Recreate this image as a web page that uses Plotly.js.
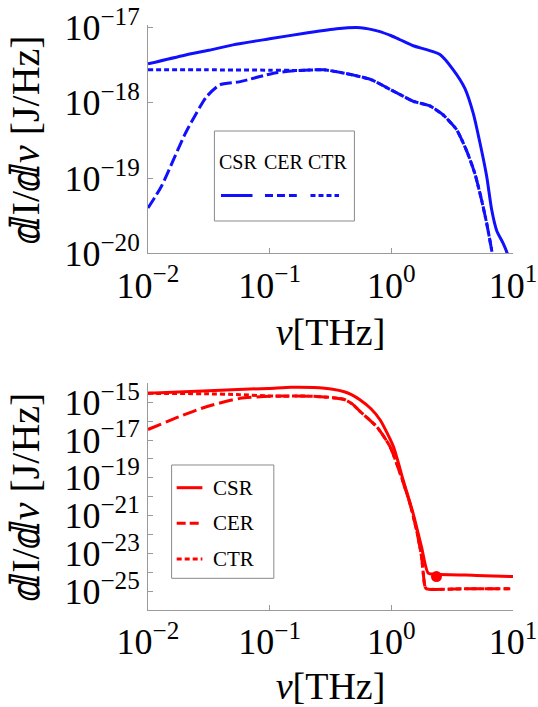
<!DOCTYPE html>
<html>
<head>
<meta charset="utf-8">
<script src="https://cdn.plot.ly/plotly-3.0.1.min.js"></script>
<style>html,body{margin:0;padding:0;background:#fff;}#chart{width:538px;height:707px;}</style>
</head>
<body>
<div id="chart"></div>
<script>
// ---------- data (frequency in THz, intensity in J/Hz) ----------
const seriesNames = ["CSR", "CER", "CTR"];

const topCSRnu = [0.01, 0.02, 0.0316, 0.05, 0.1, 0.2, 0.355, 0.56, 0.78, 1.0, 1.18, 1.51, 1.95, 2.51, 3.23, 4.03, 4.72, 5.36, 6.08, 6.68, 7.35, 8.32, 8.87, 9.3];
const topCSRI  = [3.3e-18, 4.3e-18, 5.0e-18, 5.9e-18, 7.1e-18, 8.5e-18, 9.7e-18, 1.0e-17, 9.0e-18, 7.8e-18, 6.9e-18, 5.75e-18, 5.1e-18, 4.4e-18, 2.75e-18, 1.55e-18, 7.2e-19, 2.9e-19, 1.05e-19, 3.8e-20, 2.0e-20, 1.35e-20, 1.05e-20, 7.9e-21];

const topCERnu = [0.01, 0.0129, 0.0204, 0.0302, 0.039, 0.056, 0.11, 0.174, 0.28, 0.4, 0.68, 1.0, 1.18, 1.51, 2.07, 2.67, 3.44, 4.16, 4.86, 5.52, 6.08, 6.68, 6.9];
const topCERI  = [4.0e-20, 7.8e-20, 4.0e-19, 1.2e-18, 1.74e-18, 1.9e-18, 2.5e-18, 2.7e-18, 2.75e-18, 2.5e-18, 2.04e-18, 1.48e-18, 1.29e-18, 1.05e-18, 9.1e-19, 6.9e-19, 4.4e-19, 2.3e-19, 1.15e-19, 5.1e-20, 2.5e-20, 1.1e-20, 8e-21];

const topCTRnu = [0.01, 0.03, 0.1, 0.174, 0.28, 0.4, 0.68, 1.0, 1.18, 1.51, 2.07, 2.67, 3.44, 4.16, 4.86, 5.52, 6.08, 6.68, 6.9];
const topCTRI  = [2.75e-18, 2.75e-18, 2.72e-18, 2.7e-18, 2.75e-18, 2.5e-18, 2.04e-18, 1.48e-18, 1.29e-18, 1.05e-18, 9.1e-19, 6.9e-19, 4.4e-19, 2.3e-19, 1.15e-19, 5.1e-20, 2.5e-20, 1.1e-20, 8e-21];

const botCSRnu = [0.01, 0.0316, 0.098, 0.15, 0.23, 0.33, 0.41, 0.47, 0.555, 0.68, 0.81, 1.04, 1.25, 1.51, 1.77, 2.01, 2.35, 5.0, 10];
const botCSRI  = [2.95e-15, 4.1e-15, 5.4e-15, 6.2e-15, 6.0e-15, 4.9e-15, 3.6e-15, 2.5e-15, 1.3e-15, 4.5e-16, 1.15e-16, 4.5e-18, 7.6e-20, 1.3e-21, 2.2e-23, 8.9e-25, 7.9e-25, 6.8e-25, 5.9e-25];

const botCERnu = [0.01, 0.018, 0.0302, 0.057, 0.11, 0.21, 0.33, 0.41, 0.48, 0.555, 0.76, 0.975, 1.18, 1.42, 1.61, 1.77, 1.89, 1.95, 4.0, 9.5];
const botCERI  = [3.6e-17, 1.7e-16, 5.8e-16, 1.6e-15, 2.1e-15, 2.1e-15, 1.75e-15, 1.4e-15, 7.9e-16, 3.2e-16, 5.0e-17, 4.5e-18, 1.74e-19, 4.5e-21, 1.74e-22, 6.8e-24, 1.74e-25, 1.32e-25, 1.32e-25, 1.32e-25];

const botCTRnu = [0.01, 0.03, 0.057, 0.11, 0.21, 0.33, 0.41, 0.48, 0.555, 0.76, 0.975, 1.18, 1.42, 1.61, 1.77, 1.89, 1.95, 4.0, 9.5];
const botCTRI  = [2.95e-15, 2.8e-15, 2.5e-15, 2.1e-15, 2.1e-15, 1.75e-15, 1.4e-15, 7.9e-16, 3.2e-16, 5.0e-17, 4.5e-18, 1.74e-19, 4.5e-21, 1.74e-22, 6.8e-24, 1.74e-25, 1.32e-25, 1.32e-25, 1.32e-25];

const markerNu = [2.35];
const markerI  = [5.9e-25];

const xTickVals = [0.01, 0.1, 1, 10];
const xTickText = ["10<sup>\u22122</sup>", "10<sup>\u22121</sup>", "10<sup>0</sup>", "10<sup>1</sup>"];
const topYTickVals = [1e-20, 1e-19, 1e-18, 1e-17];
const topYTickText = ["10<sup>\u221220</sup>", "10<sup>\u221219</sup>", "10<sup>\u221218</sup>", "10<sup>\u221217</sup>"];
const botYTickVals = [1e-26, 1e-25, 1e-24, 1e-23, 1e-22, 1e-21, 1e-20, 1e-19, 1e-18, 1e-17, 1e-16, 1e-15, 1e-14];
const botYTickText = ["", "10<sup>\u221225</sup>", "", "10<sup>\u221223</sup>", "", "10<sup>\u221221</sup>", "", "10<sup>\u221219</sup>", "", "10<sup>\u221217</sup>", "", "10<sup>\u221215</sup>", ""];

// ---------- styles ----------
const BLUE = "#1010ff", RED = "#ff0000";
const SERIF = "Liberation Serif, Times New Roman, DejaVu Serif, serif";
const dashTop = ["solid", "12px,4px", "5px,3px"];
const dashBot = ["solid", "14px,5px", "5px,3px"];

function line(x, y, color, dash, xa, ya, name) {
  return {x: x, y: y, type: "scatter", mode: "lines", name: name, xaxis: xa, yaxis: ya,
          line: {color: color, width: 3, dash: dash, shape: "spline", smoothing: 0.6},
          showlegend: false, hoverinfo: "skip"};
}

const traces = [
  line(topCSRnu, topCSRI, BLUE, dashTop[0], "x", "y", seriesNames[0]),
  line(topCERnu, topCERI, BLUE, dashTop[1], "x", "y", seriesNames[1]),
  line(topCTRnu, topCTRI, BLUE, dashTop[2], "x", "y", seriesNames[2]),
  line(botCSRnu, botCSRI, RED, dashBot[0], "x2", "y2", seriesNames[0]),
  line(botCERnu, botCERI, RED, dashBot[1], "x2", "y2", seriesNames[1]),
  line(botCTRnu, botCTRI, RED, dashBot[2], "x2", "y2", seriesNames[2]),
  {x: markerNu, y: markerI, type: "scatter", mode: "markers", xaxis: "x2", yaxis: "y2",
   marker: {color: RED, size: 11}, showlegend: false, hoverinfo: "skip", name: "CSR point"}
];

const axisCommon = {
  type: "log", showgrid: false, zeroline: false, showline: true, linecolor: "#9a9a9a", linewidth: 1,
  ticks: "inside", ticklen: 5, tickcolor: "#9a9a9a", tickwidth: 1,
  tickfont: {family: SERIF, size: 36, color: "#000"}
};
const ytitle = {text: "\u2146I/\u2146<i>\u03bd</i> [J/Hz]", font: {family: SERIF, size: 40, color: "#000"}, standoff: 12};
const xtitle = {text: "<i>\u03bd</i>[THz]", font: {family: SERIF, size: 38, color: "#000"}, standoff: 13};

const layout = {
  width: 538, height: 707,
  margin: {l: 148, r: 25, t: 0, b: 0},
  paper_bgcolor: "#fff", plot_bgcolor: "#fff",
  showlegend: false,
  xaxis: Object.assign({}, axisCommon, {domain: [0, 1], anchor: "y", range: [-2, 1],
    tickmode: "array", tickvals: xTickVals, ticktext: xTickText, title: xtitle}),
  yaxis: Object.assign({}, axisCommon, {domain: [0.6417, 0.9641], anchor: "x", range: [-20, -16.97],
    tickmode: "array", tickvals: topYTickVals, ticktext: topYTickText, title: ytitle}),
  xaxis2: Object.assign({}, axisCommon, {domain: [0, 1], anchor: "y2", range: [-2, 1],
    tickmode: "array", tickvals: xTickVals, ticktext: xTickText, title: xtitle}),
  yaxis2: Object.assign({}, axisCommon, {domain: [0.1372, 0.4578], anchor: "x2", range: [-26, -14],
    tickmode: "array", tickvals: botYTickVals, ticktext: botYTickText, title: ytitle}),
  shapes: [
    // top legend box and samples
    {type: "rect", xref: "paper", yref: "paper", x0: 0.1819, x1: 0.5655, y0: 0.6874, y1: 0.8147,
     line: {color: "#8a8a8a", width: 1}, fillcolor: "rgba(255,255,255,0)"},
    {type: "line", xref: "paper", yref: "paper", x0: 0.200, x1: 0.2863, y0: 0.7235, y1: 0.7235, line: {color: BLUE, width: 3, dash: dashTop[0]}},
    {type: "line", xref: "paper", yref: "paper", x0: 0.3205, x1: 0.4077, y0: 0.7235, y1: 0.7235, line: {color: BLUE, width: 3, dash: "8px,4px"}},
    {type: "line", xref: "paper", yref: "paper", x0: 0.4452, x1: 0.5233, y0: 0.7235, y1: 0.7235, line: {color: BLUE, width: 3, dash: "5px,3px"}},
    // bottom legend box and samples
    {type: "rect", xref: "paper", yref: "paper", x0: 0.0647, x1: 0.3447, y0: 0.182, y1: 0.3423,
     line: {color: "#8a8a8a", width: 1}, fillcolor: "rgba(255,255,255,0)"},
    {type: "line", xref: "paper", yref: "paper", x0: 0.0786, x1: 0.149, y0: 0.3102, y1: 0.3102, line: {color: RED, width: 3, dash: dashBot[0]}},
    {type: "line", xref: "paper", yref: "paper", x0: 0.0786, x1: 0.149, y0: 0.2598, y1: 0.2598, line: {color: RED, width: 3, dash: "9px,4px"}},
    {type: "line", xref: "paper", yref: "paper", x0: 0.0786, x1: 0.149, y0: 0.2093, y1: 0.2093, line: {color: RED, width: 3, dash: "5px,3px"}}
  ],
  annotations: [
    {xref: "paper", yref: "paper", x: 0.2479, y: 0.7709, text: seriesNames[0], showarrow: false, xanchor: "center", yanchor: "middle", font: {family: SERIF, size: 20, color: "#000"}},
    {xref: "paper", yref: "paper", x: 0.3729, y: 0.7709, text: seriesNames[1], showarrow: false, xanchor: "center", yanchor: "middle", font: {family: SERIF, size: 20, color: "#000"}},
    {xref: "paper", yref: "paper", x: 0.4942, y: 0.7709, text: seriesNames[2], showarrow: false, xanchor: "center", yanchor: "middle", font: {family: SERIF, size: 20, color: "#000"}},
    {xref: "paper", yref: "paper", x: 0.1726, y: 0.3102, text: seriesNames[0], showarrow: false, xanchor: "left", yanchor: "middle", font: {family: SERIF, size: 21, color: "#000"}},
    {xref: "paper", yref: "paper", x: 0.1726, y: 0.2598, text: seriesNames[1], showarrow: false, xanchor: "left", yanchor: "middle", font: {family: SERIF, size: 21, color: "#000"}},
    {xref: "paper", yref: "paper", x: 0.1726, y: 0.2093, text: seriesNames[2], showarrow: false, xanchor: "left", yanchor: "middle", font: {family: SERIF, size: 21, color: "#000"}}
  ]
};

Plotly.newPlot("chart", traces, layout, {displayModeBar: false, staticPlot: true});
</script>
</body>
</html>
